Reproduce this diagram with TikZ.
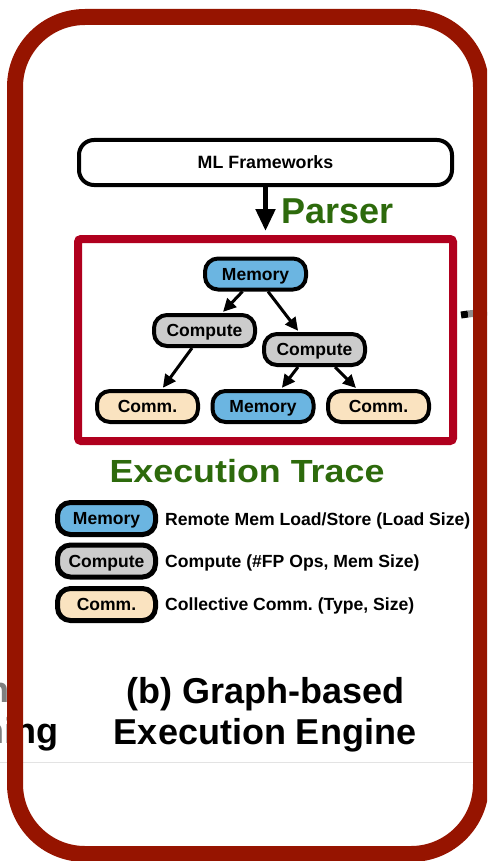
\documentclass[tikz,border=0pt]{standalone}
\usepackage{fontspec}
\setmainfont{Liberation Sans}
\usetikzlibrary{arrows.meta}
\frenchspacing

\definecolor{framered}{HTML}{961400}
\definecolor{tracered}{HTML}{B0001E}
\definecolor{parsegreen}{HTML}{2D6A0C}
\definecolor{memblue}{HTML}{6BB5E1}
\definecolor{compgray}{HTML}{CCCCCC}
\definecolor{commpeach}{HTML}{FAE3C0}

\newcommand{\bfsz}[1]{\fontsize{#1}{#1}\selectfont\bfseries}

\tikzset{
  op/.style={draw=black, line width=4pt, rounded corners=13pt,
    minimum width=101pt, minimum height=31pt, inner sep=0pt,
    text height=12.5pt, text depth=0pt, font=\bfsz{17.5}},
  mem/.style={op, fill=memblue},
  cmp/.style={op, fill=compgray},
  com/.style={op, fill=commpeach},
  key/.style={line width=5pt, minimum width=98pt, minimum height=32pt},
  edge/.style={line width=3pt, shorten >=1.5pt, -{Triangle[length=13pt,width=12.5pt]}},
  desc/.style={anchor=base west, inner sep=0pt, font=\bfsz{17.6}},
  bigtext/.style={inner sep=0pt, font=\bfsz{36}},
}

\begin{document}
\begin{tikzpicture}[x=1pt,y=-1pt]
\path[use as bounding box] (0,0) rectangle (487,861);
\clip (0,0) rectangle (487,861);

% thin page rule behind the panel
\draw[color=black!11, line width=1pt] (0,762) -- (487,762);

% tail of the neighbouring panel's caption
\node[bigtext, anchor=base east] (nbA) at (10,702) {n};
\node[bigtext, anchor=base east] (nbB) at (59,743) {ning};
\fill[white, opacity=0.5] (0,660) rectangle (7,760);

% input box
\node[draw, line width=4pt, rounded corners=15pt, minimum width=373pt,
      minimum height=45pt, font=\bfsz{17.8}] (ml) at (265.5,162.5) {ML Frameworks};

% execution trace container
\node[draw=tracered, line width=8pt, rounded corners=3pt, minimum width=375pt,
      minimum height=202pt, inner sep=0pt] (trace) at (265.5,340) {};

% parser arrow
\draw[line width=5pt, -{Triangle[length=22pt,width=19pt]}]
  (ml.south) -- ([yshift=4pt]trace.north);
\node[bigtext, anchor=base west, text=parsegreen] (parser) at (281,223) {Parser};

% outgoing link to the right
\coordinate (out) at (487,312);
\coordinate (fade) at (468,314);
\draw[line width=7pt] ([xshift=4pt,yshift=25pt]trace.east) -- (fade);
\draw[line width=7pt, black!45] (fade) -- (out);

% trace graph
\node[mem] (mt) at (255.5,274) {Memory};
\node[cmp] (cl) at (204.5,330.5) {Compute};
\node[cmp] (cr) at (314.5,349.5) {Compute};
\node[com] (bl) at (147.5,406.5) {Comm.};
\node[mem] (bm) at (263,406.5) {Memory};
\node[com] (br) at (378.5,406.5) {Comm.};

\draw[edge] ([xshift=-13pt]mt.south) -- ([xshift=17.5pt]cl.north);
\draw[edge] ([xshift=12.5pt]mt.south) -- ([xshift=-15.5pt]cr.north);
\draw[edge] ([xshift=-12.5pt]cl.south) -- ([xshift=14.5pt]bl.north);
\draw[edge] ([xshift=-16.5pt]cr.south) -- ([xshift=18pt]bm.north);
\draw[edge] ([xshift=20.5pt]cr.south) -- ([xshift=-21.5pt]br.north);

\node[bigtext, text=parsegreen, font=\bfsz{32}, xscale=1.12, anchor=base]
  (tracelbl) at (247,482) {Execution Trace};

% legend
\node[mem, key] (kmem) at (106.5,518.5) {Memory};
\node[cmp, key] (kcmp) at (106.5,561) {Compute};
\node[com, key] (kcom) at (106.5,604.5) {Comm.};
\node[desc] (dmem) at (165,525) {Remote Mem Load/Store (Load Size)};
\node[desc] (dcmp) at (165,567) {Compute (\#FP Ops, Mem Size)};
\node[desc] (dcom) at (165,610) {Collective Comm. (Type, Size)};

% caption
\node[bigtext, anchor=base] (cap1) at (265.5,703) {(b) Graph-based};
\node[bigtext, anchor=base] (cap2) at (265,744) {Execution Engine};

% panel frame
\draw[framered, line width=16pt, rounded corners=70pt] (15,17) rectangle (481,854);
\end{tikzpicture}
\end{document}
